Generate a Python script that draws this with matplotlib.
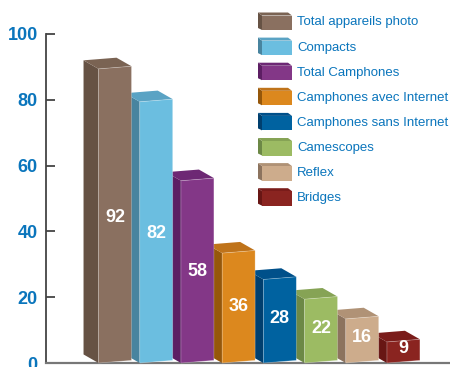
import matplotlib
matplotlib.use("Agg")
import matplotlib.pyplot as plt
from matplotlib.patches import Polygon

categories = ["Total appareils photo", "Compacts", "Total Camphones",
              "Camphones avec Internet", "Camphones sans Internet",
              "Camescopes", "Reflex", "Bridges"]
values = [92, 82, 58, 36, 28, 22, 16, 9]
front_colors = ["#8A7060", "#6BBEE0", "#833787", "#DC881E",
                "#0062A0", "#9CBB63", "#CDAC8C", "#8A2420"]
side_colors = ["#665244", "#48849F", "#5C1E63", "#95570A",
               "#003F6E", "#6C8846", "#8C735E", "#681614"]
top_colors = ["#7A6353", "#5AA3C4", "#6D2874", "#BF731A",
              "#00508A", "#86A355", "#B09276", "#7A1C1A"]
yticks = [0, 20, 40, 60, 80, 100]

W, H = 450, 367
fig = plt.figure(figsize=(W / 100, H / 100), dpi=100)
ax = fig.add_axes([46 / W, (H - 363) / H, (W - 46) / W, (363 - 34) / H])
ax.set_xlim(-1.675, 8.13)
ax.set_ylim(0, 100)

hw = 0.4      # half width of front face
dx = -0.364   # depth offset in x (to the left)
dy = 2.6      # depth offset in y
slope = 0.8   # perspective rise of front edges to the right

n = len(values)
for i in range(n - 1, -1, -1):
    v = values[i]
    z = 10 + (n - i) * 3
    fl, fr = i - hw, i + hw
    ft_l, ft_r = v - dy, v - dy + slope
    fb_l, fb_r = 0, slope
    side = Polygon([(fl, fb_l), (fl, ft_l), (fl + dx, ft_l + dy),
                    (fl + dx, fb_l + dy)], closed=True, facecolor=side_colors[i],
                   edgecolor="none", zorder=z)
    top = Polygon([(fl, ft_l), (fr, ft_r), (fr + dx, ft_r + dy),
                   (fl + dx, ft_l + dy)], closed=True, facecolor=top_colors[i],
                  edgecolor="none", zorder=z + 1)
    front = Polygon([(fl, fb_l), (fr, fb_r), (fr, ft_r), (fl, ft_l)],
                    closed=True, facecolor=front_colors[i],
                    edgecolor=(1, 1, 1, 0.35), linewidth=0.5, zorder=z + 2)
    for p in (side, top, front):
        p.set_clip_on(False)
        ax.add_patch(p)
    ax.text(i, v * 0.48, str(v), ha="center", va="center", color="white",
            fontsize=13, fontweight="bold", family="Liberation Sans", zorder=z + 3)

for s in ["top", "right"]:
    ax.spines[s].set_visible(False)
ax.spines["left"].set_color("#444444")
ax.spines["left"].set_linewidth(1.3)
ax.spines["bottom"].set_color("#777777")
ax.spines["bottom"].set_linewidth(1.6)
ax.spines["bottom"].set_zorder(5)
ax.set_xticks([])
ax.set_yticks(yticks)
ax.set_yticklabels([str(t) for t in yticks])
ax.tick_params(axis="y", direction="in", length=6.5, width=1.3, color="#444444",
               pad=6, labelcolor="#0A75BC")
for lab in ax.get_yticklabels():
    lab.set_fontfamily("Liberation Sans")
    lab.set_fontweight("bold")
    lab.set_fontsize(13)

# legend drawn in figure pixel space
def fp(x, y):
    return (x / W, 1 - y / H)

for k, name in enumerate(categories):
    cy = 22.5 + 25.1 * k
    fx0, fx1 = 262, 292
    fy0, fy1 = cy - 7, cy + 7.5
    side = Polygon([fp(fx0, fy1), fp(fx0, fy0), fp(fx0 - 4, fy0 - 3), fp(fx0 - 4, fy1 - 2)],
                   closed=True, transform=fig.transFigure,
                   facecolor=side_colors[k], edgecolor="none")
    top = Polygon([fp(fx0, fy0), fp(fx1, fy0), fp(fx1 - 4, fy0 - 3), fp(fx0 - 4, fy0 - 3)],
                  closed=True, transform=fig.transFigure,
                  facecolor=top_colors[k], edgecolor="none")
    front = Polygon([fp(fx0, fy0), fp(fx1, fy0), fp(fx1, fy1), fp(fx0, fy1)],
                    closed=True, transform=fig.transFigure,
                    facecolor=front_colors[k], edgecolor="none")
    for p in (side, top, front):
        fig.add_artist(p)
    tx, ty = fp(297, cy)
    fig.text(tx, ty, name, ha="left", va="center", color="#0A75BC",
             fontsize=9.5, family="Liberation Sans")

fig.savefig("out.png", dpi=100)
